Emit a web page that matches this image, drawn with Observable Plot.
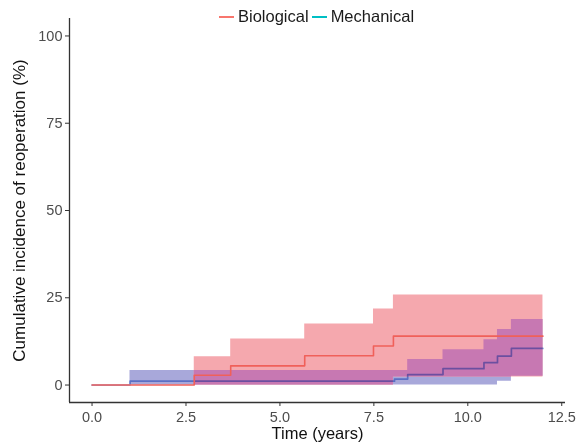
<!DOCTYPE html>
<html>
<head>
<meta charset="utf-8">
<script src="https://cdn.jsdelivr.net/npm/d3@7"></script>
<script src="https://cdn.jsdelivr.net/npm/@observablehq/plot@0.6"></script>
<style>
  html, body { margin: 0; padding: 0; background: #fff; }
  #wrap { position: relative; width: 577px; height: 447px; font-family: "Liberation Sans", Arial, sans-serif; }
  #legend { position: absolute; top: 7px; left: 219px; display: flex; align-items: center; font-size: 16.5px; color: #1a1a1a; white-space: nowrap; }
  #legend .key { display: inline-block; width: 15px; height: 2px; margin-right: 4px; }
  #legend .item { display: flex; align-items: center; margin-right: 3px; }
</style>
</head>
<body>
<div id="wrap">
  <div id="legend"></div>
</div>
<script>
// ---- data ----
const seriesNames = ["Biological", "Mechanical"];
const legendColors = ["#F8766D", "#00BFC4"];

const bioTime = [0, 2.72, 3.69, 5.66, 7.49, 8.02, 12.0];
const bioEst  = [0, 2.8, 5.5, 8.4, 11.2, 14.0, 14.0];
const bioLow  = [0, 0, 0, 0, 0, 2.3, 2.3];
const bioHigh = [0, 8.1, 13.2, 17.5, 21.8, 25.8, 25.8];

const mechTime = [0, 1.01, 8.05, 8.40, 9.34, 10.43, 10.79, 11.16, 12.0];
const mechEst  = [0, 1.1, 1.7, 3.0, 4.7, 6.4, 8.3, 10.5, 10.5];
const mechLow  = [0, 0, 0, 0, 0, 0, 1.1, 2.5, 2.5];
const mechHigh = [0, 4.2, 4.2, 7.3, 10.1, 13.0, 15.9, 18.8, 18.8];

const xTicks = [0, 2.5, 5, 7.5, 10, 12.5];
const yTicks = [0, 25, 50, 75, 100];

const xTitle = "Time (years)";
const yTitle = "Cumulative incidence of reoperation (%)";

// ---- build tables ----
const bio = bioTime.map((t, i) => ({t, est: bioEst[i], lo: bioLow[i], hi: bioHigh[i]}));
const mech = mechTime.map((t, i) => ({t, est: mechEst[i], lo: mechLow[i], hi: mechHigh[i]}));

// region where both confidence bands overlap (step functions, evaluated at every step time)
function stepAt(rows, t, key) {
  let v = rows[0][key];
  for (const r of rows) if (r.t <= t) v = r[key];
  return v;
}
const allTimes = Array.from(new Set([...bioTime, ...mechTime])).sort((a, b) => a - b)
  .filter(t => t >= mechTime[1]);
const overlap = allTimes.map(t => {
  const lo = Math.max(stepAt(bio, t, "lo"), stepAt(mech, t, "lo"));
  const hi = Math.min(stepAt(bio, t, "hi"), stepAt(mech, t, "hi"));
  return {t, lo, hi: Math.max(lo, hi)};
});

const font = "Liberation Sans, Arial, sans-serif";

const chart = Plot.plot({
  width: 577,
  height: 447,
  marginLeft: 69,
  marginRight: 12,
  marginTop: 18,
  marginBottom: 45,
  style: {fontFamily: font, background: "white", overflow: "visible"},
  x: {domain: [-0.6, 12.6]},
  y: {domain: [-5, 105]},
  marks: [
    Plot.areaY(mech, {x: "t", y1: "lo", y2: "hi", curve: "step-after", fill: "#A8A8DA"}),
    Plot.areaY(bio, {x: "t", y1: "lo", y2: "hi", curve: "step-after", fill: "#F5A8AE"}),
    Plot.areaY(overlap, {x: "t", y1: "lo", y2: "hi", curve: "step-after", fill: "#C778B2"}),
    Plot.line(mech, {x: "t", y: "est", curve: "step-after", stroke: "#8AA8E6", strokeWidth: 1.7, mixBlendMode: "multiply"}),
    Plot.line(bio, {x: "t", y: "est", curve: "step-after", stroke: "#F0605A", strokeWidth: 1.6}),
    Plot.ruleX([-0.6], {stroke: "#333", strokeWidth: 1.3}),
    Plot.ruleY([-5], {stroke: "#333", strokeWidth: 1.3}),
    Plot.axisX({ticks: xTicks, tickFormat: d3.format(".1f"), tickSize: 4, tickPadding: 5, fontSize: 14.5, stroke: "#333", fill: "#4D4D4D", label: null}),
    Plot.axisY({ticks: yTicks, tickSize: 4, tickPadding: 3, fontSize: 14.5, stroke: "#333", fill: "#4D4D4D", label: null}),
    Plot.text([xTitle], {frameAnchor: "bottom", dy: 36, fontSize: 16.5, fill: "#111"}),
    Plot.text([yTitle], {frameAnchor: "left", dx: -50, rotate: -90, textAnchor: "middle", fontSize: 17, fill: "#111"})
  ]
});
document.getElementById("wrap").appendChild(chart);

// ---- legend ----
const legend = document.getElementById("legend");
seriesNames.forEach((name, i) => {
  const item = document.createElement("span");
  item.className = "item";
  const key = document.createElement("span");
  key.className = "key";
  key.style.background = legendColors[i];
  const label = document.createElement("span");
  label.textContent = name;
  item.appendChild(key);
  item.appendChild(label);
  legend.appendChild(item);
});
</script>
</body>
</html>
